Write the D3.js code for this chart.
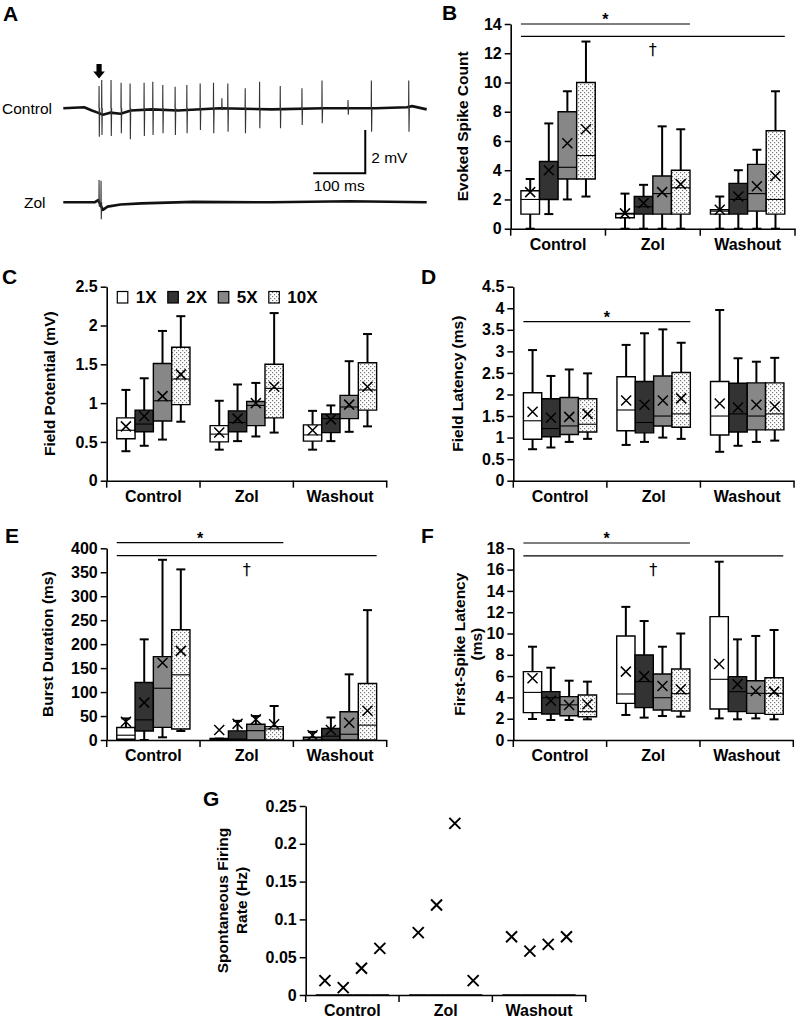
<!DOCTYPE html>
<html><head><meta charset="utf-8">
<script src="https://cdn.jsdelivr.net/npm/d3@7"></script>
<style>
body{margin:0;background:#fff;}
svg{display:block;}
</style></head><body>
<svg id="fig" width="800" height="1029"></svg>
<script>
// ---------------- DATA ----------------
const categories = ["Control", "Zol", "Washout"];
const series = ["1X", "2X", "5X", "10X"];

// Panel A traces (time in ms, voltage in mV)
const ctrlSpikeT    = [68.7, 73.8, 91.7, 111, 128.3, 155.2, 171.9, 191.1, 214.8, 237.3, 262.9, 288.5, 304.6, 316, 349.4, 377, 416.7, 458.4, 496.9, 546.9, 591.7, 663.5];
const ctrlSpikeUp   = [1.03, 1.31, 1.31, 1.18, 1.15, 1.18, 1.23, 1.08, 1.0, 1.08, 1.15, 1.18, 0.46, 1.15, 0.92, 1.23, 1.03, 0.92, 1.28, 0.38, 1.28, 1.28];
const ctrlSpikeDown = [-1.31, -1.23, -1.28, -1.15, -1.43, -1.28, -1.23, -1.15, -1.23, -1.15, -1.0, -1.15, -0.08, -1.08, -1.15, -0.92, -0.92, -0.77, -0.69, -0.3, -1.08, -1.08];
const ctrlBaseT = [0, 40, 55, 66, 76, 90, 110, 130, 170, 220, 300, 400, 500, 600, 660, 670, 698];
const ctrlBaseV = [0, 0.05, -0.1, -0.2, -0.3, -0.2, -0.25, -0.1, -0.05, -0.1, 0, -0.05, 0, 0, 0.05, 0.1, -0.05];
const zolSpikeT    = [68.7, 72.5];
const zolSpikeUp   = [1.03, 1.0];
const zolSpikeDown = [-0.2, -0.78];
const zolBaseT = [0, 60, 67, 76, 85, 110, 150, 250, 400, 550, 698];
const zolBaseV = [0, 0, 0.1, -0.35, -0.2, -0.1, -0.05, 0.02, 0, 0.05, 0];

// Panel B: Evoked Spike Count  [category][series]
const B_ticks = [0, 2, 4, 6, 8, 10, 12, 14];
const B_min  = [[0, 1, 2, 2.2], [0, 0, 0, 0], [0, 0, 0, 0]];
const B_q1   = [[1, 2, 3.4, 3.4], [0.75, 1, 1, 1], [1, 1, 1.2, 1]];
const B_med  = [[2, 2, 4.2, 5], [1, 1.5, 2.4, 2.8], [1.2, 2, 2.4, 2]];
const B_q3   = [[2.6, 4.6, 8, 10], [1.05, 2.2, 3.6, 4], [1.3, 3.1, 4.4, 6.7]];
const B_max  = [[3.4, 7.2, 9.4, 12.8], [2.4, 3, 7, 6.8], [2.2, 4, 5.4, 9.4]];
const B_mean = [[2.5, 4.0, 5.85, 6.8], [1.05, 1.75, 2.5, 3.05], [1.3, 2.2, 2.9, 3.6]];
const B_sig  = [["Control", "Zol", 14, "*"], ["Control", "Washout", 13.15, "†"]];

// Panel C: Field Potential (mV)
const C_ticks = [0, 0.5, 1, 1.5, 2, 2.5];
const C_min  = [[0.38, 0.45, 0.53, 0.76], [0.40, 0.51, 0.57, 0.62], [0.40, 0.51, 0.63, 0.70]];
const C_q1   = [[0.54, 0.63, 0.77, 0.98], [0.50, 0.63, 0.71, 0.81], [0.51, 0.62, 0.80, 0.91]];
const C_med  = [[0.65, 0.73, 1.03, 1.31], [0.60, 0.75, 0.97, 1.19], [0.59, 0.80, 0.95, 1.17]];
const C_q3   = [[0.81, 0.91, 1.51, 1.72], [0.71, 0.90, 1.02, 1.50], [0.72, 0.86, 1.10, 1.52]];
const C_max  = [[1.17, 1.32, 1.93, 2.12], [1.03, 1.24, 1.26, 2.16], [0.90, 0.97, 1.54, 1.89]];
const C_mean = [[0.70, 0.83, 1.09, 1.37], [0.62, 0.80, 1.00, 1.21], [0.65, 0.79, 0.98, 1.21]];

// Panel D: Field Latency (ms)
const D_ticks = [0, 0.5, 1, 1.5, 2, 2.5, 3, 3.5, 4, 4.5];
const D_min  = [[0.73, 0.77, 0.90, 0.97], [0.83, 0.90, 1.00, 0.97], [0.67, 0.81, 0.90, 0.93]];
const D_q1   = [[0.96, 1.02, 1.07, 1.13], [1.16, 1.11, 1.27, 1.24], [1.06, 1.13, 1.18, 1.18]];
const D_med  = [[1.39, 1.21, 1.27, 1.31], [1.64, 1.35, 1.50, 1.55], [1.50, 1.55, 1.50, 1.55]];
const D_q3   = [[2.04, 1.90, 1.93, 1.90], [2.41, 2.30, 2.43, 2.51], [2.30, 2.26, 2.27, 2.27]];
const D_max  = [[3.03, 2.43, 2.58, 2.49], [3.15, 3.42, 3.51, 3.20], [3.96, 2.84, 2.76, 2.85]];
const D_mean = [[1.60, 1.46, 1.48, 1.55], [1.86, 1.76, 1.86, 1.91], [1.79, 1.70, 1.76, 1.72]];
const D_sig  = [["Control", "Zol", 3.69, "*"]];

// Panel E: Burst Duration (ms)
const E_ticks = [0, 50, 100, 150, 200, 250, 300, 350, 400];
const E_min  = [[0, 0, 5.6, 18.8], [0, 0, 0, 0], [0, 0, 0, 0]];
const E_q1   = [[1.5, 18.8, 26.4, 23], [0, 0, 0, 0], [0, 0, 0, 0]];
const E_med  = [[10, 42, 108, 136], [0, 2, 19.5, 23], [2, 8, 12, 31]];
const E_q3   = [[26, 120, 174, 230], [3, 19, 33, 28], [5.6, 24, 59, 118]];
const E_max  = [[45, 210, 376, 356], [3, 40, 50, 71], [17, 47, 137, 271]];
const E_mean = [[38, 78, 161, 186], [21, 34, 43, 33], [10, 21, 36, 61]];
const E_sig  = [["Control", "Zol", 411.7, "*"], ["Control", "Washout", 384.6, "†"]];

// Panel F: First-Spike Latency (ms)
const F_ticks = [0, 2, 4, 6, 8, 10, 12, 14, 16, 18];
const F_min  = [[1.97, 1.88, 1.88, 1.94], [2.35, 2.10, 2.25, 2.19], [2.03, 1.94, 2.03, 1.94]];
const F_q1   = [[2.57, 2.44, 2.28, 2.19], [3.44, 3.04, 2.82, 2.72], [2.91, 2.66, 2.50, 2.41]];
const F_med  = [[4.47, 3.97, 3.30, 2.66], [4.32, 5.48, 3.97, 4.35], [5.70, 4.54, 4.38, 4.38]];
const F_q3   = [[6.42, 4.54, 4.07, 4.23], [9.77, 7.98, 6.20, 6.67], [11.58, 5.95, 5.57, 5.85]];
const F_max  = [[8.76, 6.79, 5.57, 5.48], [12.5, 11.17, 8.76, 10.0], [16.74, 9.45, 9.77, 10.33]];
const F_mean = [[5.79, 3.69, 3.29, 3.35], [6.42, 6.00, 5.07, 4.76], [7.14, 5.23, 4.60, 4.54]];
const F_sig  = [["Control", "Zol", 18.5, "*"], ["Control", "Washout", 17.28, "†"]];

// Panel G: Spontaneous Firing Rate (Hz)
const G_ticks = [0, 0.05, 0.1, 0.15, 0.2, 0.25];
const G_box  = [[0, 0, 0, 0], [0, 0, 0, 0], [0, 0, 0, 0]];
const G_mean = [[0.019, 0.0097, 0.0353, 0.0617], [0.0825, 0.119, 0.227, 0.019], [0.077, 0.058, 0.067, 0.077]];

// ---------------- DRAWING ----------------
const FONT = '"Liberation Sans", Arial, Helvetica, sans-serif';
const svg = d3.select("#fig").attr("font-family", FONT);

const defs = svg.append("defs");
const pat = defs.append("pattern").attr("id", "dots").attr("patternUnits", "userSpaceOnUse")
  .attr("width", 4).attr("height", 4);
pat.append("rect").attr("width", 4).attr("height", 4).attr("fill", "#fff");
pat.append("rect").attr("x", 0).attr("y", 0).attr("width", 1.2).attr("height", 1.2).attr("fill", "#777");
pat.append("rect").attr("x", 2).attr("y", 2).attr("width", 1.2).attr("height", 1.2).attr("fill", "#777");

const fills = {"1X": "#ffffff", "2X": "#333333", "5X": "#878787", "10X": "url(#dots)"};

function letter(t, x, y) {
  svg.append("text").attr("x", x).attr("y", y).text(t)
    .attr("font-size", 21).attr("font-weight", "bold").attr("fill", "#000");
}

function drawPanel(cfg) {
  const g = svg.append("g");
  const x = d3.scaleBand().domain(categories).range([cfg.x0, cfg.x1]);
  const xs = d3.scaleBand().domain(series).range([0, x.bandwidth()]).paddingOuter(0.55);
  const t = cfg.ticks;
  const y = d3.scaleLinear().domain([t[0], t[t.length - 1]]).range([cfg.yb, cfg.yt]);

  const ay = g.append("g").attr("transform", `translate(${cfg.x0},0)`)
    .call(d3.axisLeft(y).tickValues(t).tickFormat(d => String(+d.toFixed(3)))
      .tickSize(6).tickSizeOuter(0).tickPadding(3));
  ay.select(".domain").attr("stroke", "#000").attr("stroke-width", 1.6);
  ay.selectAll(".tick line").attr("stroke", "#000").attr("stroke-width", 1.5);
  ay.selectAll(".tick text").attr("font-size", 16).attr("font-weight", "bold")
    .attr("font-family", FONT).attr("fill", "#000");

  const ax = g.append("g").attr("transform", `translate(0,${cfg.yb})`)
    .call(d3.axisBottom(x).tickSize(0).tickSizeOuter(0).tickPadding(10));
  ax.select(".domain").attr("stroke", "#000").attr("stroke-width", 1.6);
  ax.selectAll(".tick text").attr("font-size", 16).attr("font-weight", "bold")
    .attr("font-family", FONT).attr("fill", "#000");
  const bounds = categories.map(c => x(c)).concat([cfg.x1]);
  g.selectAll("line.div").data(bounds).join("line")
    .attr("x1", d => d).attr("x2", d => d).attr("y1", cfg.yb).attr("y2", cfg.yb + 7)
    .attr("stroke", "#000").attr("stroke-width", 1.5);

  const rows = [];
  categories.forEach((c, ci) => series.forEach((s, si) => rows.push({
    c, s, min: cfg.min[ci][si], q1: cfg.q1[ci][si], med: cfg.med[ci][si],
    q3: cfg.q3[ci][si], max: cfg.max[ci][si], mean: cfg.mean[ci][si]
  })));
  const bw = xs.bandwidth();
  const cx = d => x(d.c) + xs(d.s) + bw / 2;

  if (!cfg.noBoxes) {
    const wg = g.append("g").attr("stroke", "#000").attr("stroke-width", 2);
    rows.forEach(d => {
      const xc = cx(d);
      wg.append("line").attr("x1", xc).attr("x2", xc).attr("y1", y(d.max)).attr("y2", y(d.q3));
      wg.append("line").attr("x1", xc).attr("x2", xc).attr("y1", y(d.q1)).attr("y2", y(d.min));
      wg.append("line").attr("x1", xc - 4.5).attr("x2", xc + 4.5).attr("y1", y(d.max)).attr("y2", y(d.max));
      wg.append("line").attr("x1", xc - 4.5).attr("x2", xc + 4.5).attr("y1", y(d.min)).attr("y2", y(d.min));
    });
  }
  g.selectAll("path.box").data(rows).join("path")
    .attr("d", d => {
      const x1 = x(d.c) + xs(d.s), x2 = x1 + bw;
      return `M${x1},${y(d.q3)}H${x2}V${y(d.q1)}H${x1}Z`;
    })
    .attr("fill", d => fills[d.s]).attr("stroke", "#000").attr("stroke-width", cfg.noBoxes ? 1.3 : 1.4);
  if (!cfg.noBoxes) {
    g.selectAll("line.med").data(rows).join("line")
      .attr("x1", d => x(d.c) + xs(d.s)).attr("x2", d => x(d.c) + xs(d.s) + bw)
      .attr("y1", d => y(d.med)).attr("y2", d => y(d.med))
      .attr("stroke", "#000").attr("stroke-width", 1.1);
  }
  const ms = cfg.markSize || 5;
  g.selectAll("path.mean").data(rows).join("path")
    .attr("transform", d => `translate(${cx(d)},${y(d.mean)})`)
    .attr("d", `M${-ms},${-ms}L${ms},${ms}M${-ms},${ms}L${ms},${-ms}`)
    .attr("stroke", "#000").attr("stroke-width", cfg.markWidth || 1.5).attr("fill", "none");

  (cfg.sig || []).forEach(([a, b, v, mark]) => {
    const xa = x(a) + xs(series[0]);
    const xb = x(b) + xs(series[series.length - 1]) + bw;
    g.append("line").attr("x1", xa).attr("x2", xb).attr("y1", y(v)).attr("y2", y(v))
      .attr("stroke", "#000").attr("stroke-width", 1.2);
    const mx = (xa + xb) / 2;
    if (mark === "*") {
      g.append("text").attr("x", mx).attr("y", y(v) + 1).attr("text-anchor", "middle")
        .attr("font-size", 16).attr("font-weight", "bold").attr("fill", "#000").text(mark);
    } else {
      g.append("text").attr("x", mx).attr("y", y(v) + 19).attr("text-anchor", "middle")
        .attr("font-family", '"DejaVu Sans", sans-serif')
        .attr("font-size", 16).attr("fill", "#000").text(mark);
    }
  });

  cfg.title.forEach((line, i) => {
    g.append("text").attr("transform", `translate(${cfg.titleX[i]},${(cfg.yb + cfg.yt) / 2}) rotate(-90)`)
      .attr("text-anchor", "middle").attr("dy", "0.35em").attr("fill", "#000")
      .attr("font-size", 15.5).attr("font-weight", "bold").text(line);
  });
  return {x, xs, y};
}

// ----- Panel A -----
(function () {
  const tx = d3.scaleLinear().domain([0, 698]).range([63.3, 426.7]);
  const mvPx = 21.67;
  const yc = d3.scaleLinear().domain([-1, 1]).range([108.3 + mvPx, 108.3 - mvPx]);
  const yz = d3.scaleLinear().domain([-1, 1]).range([202.3 + mvPx, 202.3 - mvPx]);
  const line = (ys) => d3.line().x(d => tx(d[0])).y(d => ys(d[1]));
  const drawTrace = (bt, bv, st, su, sd, ys) => {
    svg.append("path").datum(bt.map((t, i) => [t, bv[i]]))
      .attr("d", line(ys)).attr("fill", "none").attr("stroke", "#111").attr("stroke-width", 2.6)
      .attr("stroke-linejoin", "round");
    st.forEach((t, i) => {
      svg.append("path").datum([[t - 0.3, 0], [t, su[i]], [t + 0.5, sd[i]], [t + 1.2, 0]])
        .attr("d", line(ys)).attr("fill", "none").attr("stroke", "#333").attr("stroke-width", 1.1);
    });
  };
  drawTrace(ctrlBaseT, ctrlBaseV, ctrlSpikeT, ctrlSpikeUp, ctrlSpikeDown, yc);
  drawTrace(zolBaseT, zolBaseV, zolSpikeT, zolSpikeUp, zolSpikeDown, yz);

  svg.append("text").attr("x", 2).attr("y", 113.5).attr("font-size", 15.5).text("Control");
  svg.append("text").attr("x", 24).attr("y", 207.5).attr("font-size", 15.5).text("Zol");

  const ax = tx(68.7);
  svg.append("path")
    .attr("d", `M${ax - 2.6},64V71.5H${ax - 5.8}L${ax},78.5L${ax + 5.8},71.5H${ax + 2.6}V64Z`)
    .attr("fill", "#000");

  const xb0 = tx(480), xb1 = tx(580);
  svg.append("path").attr("d", `M${xb0},${yc(-3)}H${xb1}V${yc(-1)}`)
    .attr("fill", "none").attr("stroke", "#000").attr("stroke-width", 2);
  svg.append("text").attr("x", xb1 + 6).attr("y", 162.5).attr("font-size", 15.5).text("2 mV");
  svg.append("text").attr("x", (xb0 + xb1) / 2).attr("y", 190.5).attr("text-anchor", "middle")
    .attr("font-size", 15.5).text("100 ms");
})();
letter("A", 3, 21);

drawPanel({x0: 510.7, x1: 795, yb: 228.7, yt: 24, ticks: B_ticks,
  min: B_min, q1: B_q1, med: B_med, q3: B_q3, max: B_max, mean: B_mean, sig: B_sig,
  title: ["Evoked Spike Count"], titleX: [463]});
letter("B", 442, 20);

drawPanel({x0: 106.7, x1: 386.7, yb: 480.7, yt: 286.7, ticks: C_ticks,
  min: C_min, q1: C_q1, med: C_med, q3: C_q3, max: C_max, mean: C_mean,
  title: ["Field Potential (mV)"], titleX: [50]});
letter("C", 2, 284);
(function () {
  const lx = d3.scaleBand().domain(series).range([117.3, 117.3 + 4 * 50.5]);
  const lg = svg.append("g");
  series.forEach(s => {
    const xx = lx(s);
    lg.append("rect").attr("x", xx).attr("y", 291.5).attr("width", 10.5).attr("height", 11.5)
      .attr("fill", fills[s]).attr("stroke", "#000").attr("stroke-width", 1.2);
    lg.append("text").attr("x", xx + 18.5).attr("y", 303.2).attr("font-size", 17)
      .attr("font-weight", "bold").attr("fill", "#000").text(s);
  });
})();

drawPanel({x0: 513.3, x1: 794, yb: 480.7, yt: 286.7, ticks: D_ticks,
  min: D_min, q1: D_q1, med: D_med, q3: D_q3, max: D_max, mean: D_mean, sig: D_sig,
  title: ["Field Latency (ms)"], titleX: [458]});
letter("D", 421, 284);

drawPanel({x0: 106.7, x1: 386.7, yb: 740, yt: 548.3, ticks: E_ticks,
  min: E_min, q1: E_q1, med: E_med, q3: E_q3, max: E_max, mean: E_mean, sig: E_sig,
  title: ["Burst Duration (ms)"], titleX: [47.5]});
letter("E", 5, 543);

drawPanel({x0: 513.3, x1: 793.3, yb: 740, yt: 548.3, ticks: F_ticks,
  min: F_min, q1: F_q1, med: F_med, q3: F_q3, max: F_max, mean: F_mean, sig: F_sig,
  title: ["First-Spike Latency", "(ms)"], titleX: [460, 477]});
letter("F", 421, 543);

drawPanel({x0: 305.7, x1: 585.7, yb: 995, yt: 806, ticks: G_ticks,
  min: G_box, q1: G_box, med: G_box, q3: G_box, max: G_box, mean: G_mean,
  noBoxes: true, markSize: 5.5, markWidth: 2,
  title: ["Spontaneous Firing", "Rate (Hz)"], titleX: [223, 242]});
letter("G", 203, 806);
</script>
</body></html>
